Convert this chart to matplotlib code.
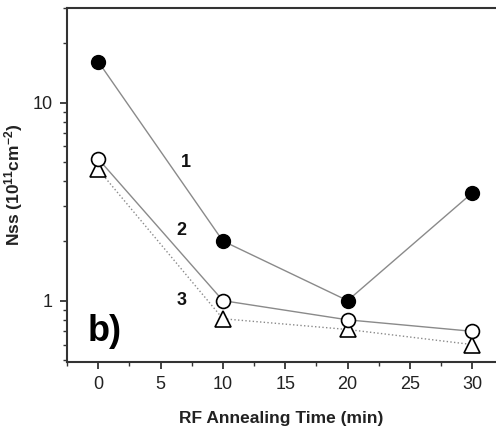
import matplotlib
matplotlib.use("Agg")
import matplotlib.pyplot as plt
from matplotlib.ticker import LogLocator, FixedLocator, NullFormatter, FixedFormatter, MultipleLocator

plt.rcParams['font.family'] = ['Liberation Sans', 'DejaVu Sans']
plt.rcParams['mathtext.fontset'] = 'custom'
plt.rcParams['mathtext.rm'] = 'Liberation Sans:bold'
plt.rcParams['mathtext.bf'] = 'Liberation Sans:bold'
plt.rcParams['mathtext.it'] = 'Liberation Sans:bold'

time_min = [0, 10, 20, 30]
nss_1 = [16.1, 2.0, 1.0, 3.5]
nss_2 = [5.2, 1.0, 0.80, 0.70]
nss_3 = [4.6, 0.81, 0.715, 0.60]
curve_labels = ["1", "2", "3"]

fig = plt.figure(figsize=(4.96, 4.30), dpi=100)
ax = fig.add_axes([67/496, 68/430, 1 - 67/496, (362-8)/430])

line_col = '#8a8a8a'
ax.plot(time_min, nss_1, '-', color=line_col, lw=1.0, zorder=1)
ax.plot(time_min, nss_1, 'o', ms=10, mfc='black', mec='black', zorder=3)
ax.plot(time_min, nss_2, '-', color=line_col, lw=1.0, zorder=1)
ax.plot(time_min, nss_2, 'o', ms=10, mfc='white', mec='black', mew=1.2, zorder=3)
ax.plot(time_min, nss_3, ':', color=line_col, lw=1.0, zorder=1)
ax.plot(time_min, nss_3, '^', ms=11, mfc='white', mec='black', mew=1.2, zorder=2)

ax.set_yscale('log')
ax.set_xlim(-2.5, 31.9)
ax.set_ylim(0.49, 30)

ax.yaxis.set_major_locator(FixedLocator([1, 10]))
ax.yaxis.set_major_formatter(FixedFormatter(['1', '10']))
ax.yaxis.set_minor_locator(LogLocator(base=10, subs=[2, 3, 4, 5, 6, 7, 8, 9]))
ax.yaxis.set_minor_formatter(NullFormatter())
ax.xaxis.set_major_locator(MultipleLocator(5))
ax.xaxis.set_minor_locator(MultipleLocator(2.5))

for s in ['left', 'bottom', 'top']:
    ax.spines[s].set_linewidth(1.5)
    ax.spines[s].set_color('#333333')
ax.spines['right'].set_visible(False)

ax.tick_params(axis='both', which='major', direction='out', length=5, width=1.3,
               labelsize=13, colors='#333333', labelcolor='#222222', pad=5)
ax.tick_params(axis='both', which='minor', direction='out', length=3, width=1.0, colors='#333333')

ax.set_xlabel('RF Annealing Time (min)', fontsize=12.5, fontweight='bold', labelpad=13, color='#222222')
ax.set_ylabel('Nss (10$^{11}$cm$^{-2}$)', fontsize=12.5, fontweight='bold', labelpad=6, color='#222222')

label_pos = [(7.0, 5.0), (6.7, 2.25), (6.7, 1.0)]
for t, (x, y) in zip(curve_labels, label_pos):
    ax.text(x, y, t, fontsize=13, fontweight='bold', ha='center', va='center', color='#111111')

ax.text(-0.85, 0.7, 'b)', fontsize=26, fontweight='bold', ha='left', va='center')

fig.savefig('out.png', dpi=100)
